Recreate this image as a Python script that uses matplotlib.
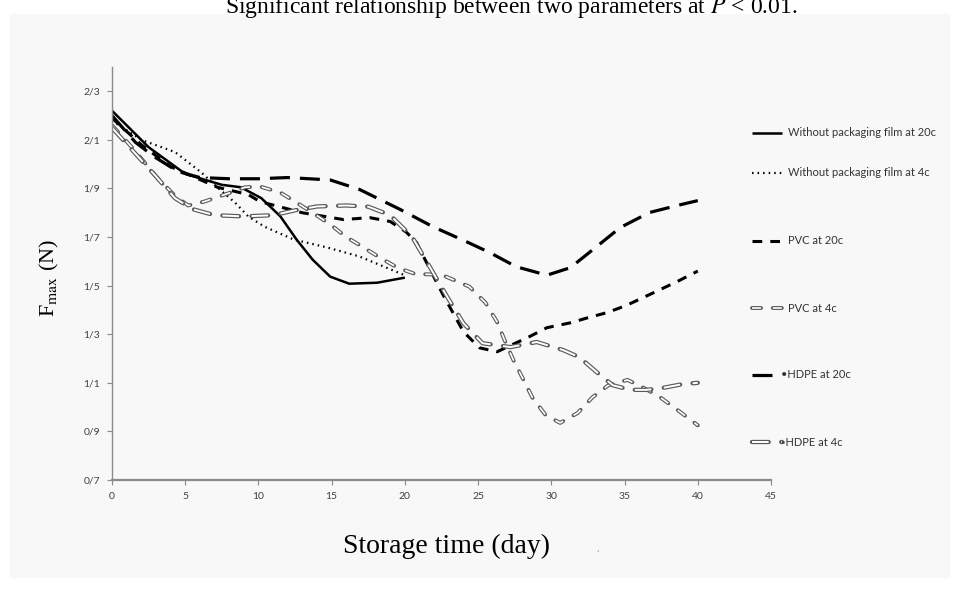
# -*- coding: utf-8 -*-
"""
Fmax of samples during storage, for six packaging / temperature treatments.
Recreation of an Excel-style smoothed line chart; saved as out.png.
"""

import matplotlib
matplotlib.use("Agg")
import matplotlib.pyplot as plt
from matplotlib.lines import Line2D
from matplotlib.patches import Rectangle

# Data (storage day, Fmax in N)
days_nf20 = [0, 2.5, 5, 7.5, 8.8, 10.2, 11.5, 12.6, 13.7, 14.9, 16.2, 18.1, 20]
fmax_nf20 = [2.22, 2.07, 1.96, 1.915, 1.905, 1.86, 1.785, 1.69, 1.607, 1.537, 1.508, 1.512, 1.533]

days_nf4 = [0, 2.0, 4.3, 6.1, 7.2, 8.4, 9.3, 10.4, 12.4, 14.7, 16.9, 19.9]
fmax_nf4 = [2.18, 2.10, 2.05, 1.966, 1.904, 1.842, 1.785, 1.743, 1.69, 1.657, 1.62, 1.545]

days_pvc20 = [0, 2, 4, 5.5, 7.2, 9.3, 10.1, 13, 15.8, 17.6, 19, 20.1, 20.8, 21.2, 22.6, 24,
              25.1, 26.3, 28.5, 29.7, 31.3, 32.5, 33.8, 35.1, 36.7, 38.6, 40]
fmax_pvc20 = [2.19, 2.08, 1.99, 1.95, 1.905, 1.875, 1.846, 1.80, 1.772, 1.78, 1.764, 1.72, 1.677,
              1.628, 1.463, 1.31, 1.244, 1.228, 1.29, 1.327, 1.347, 1.368, 1.389, 1.418, 1.463,
              1.517, 1.56]

days_pvc4 = [0, 1.5, 3, 4.3, 5.2, 6.3, 7.7, 9.1, 10.1, 11.5, 12.6, 13.7, 14.9, 16, 17.1, 18.3,
             19.5, 20.7, 22.5, 24.4, 25.5, 26.3, 26.8, 27.4, 28.1, 28.7, 29.6, 30.6, 31.8, 32.8,
             33.9, 35.2, 36.2, 37.4, 38.6, 40]
fmax_pvc4 = [2.16, 2.06, 1.95, 1.87, 1.83, 1.846, 1.875, 1.905, 1.908, 1.883, 1.842, 1.80, 1.752,
             1.70, 1.66, 1.615, 1.574, 1.548, 1.545, 1.496, 1.43, 1.35, 1.277, 1.195, 1.112, 1.04,
             0.968, 0.935, 0.976, 1.04, 1.09, 1.112, 1.083, 1.042, 0.989, 0.925]

days_hdpe20 = [0, 1.6, 2.9, 4.5, 6, 8, 10, 12, 14.9, 16.9, 19.7, 21.9, 24.2, 25.8, 27.6, 29.7,
               31.3, 33.1, 34.7, 36.7, 38.6, 40]
fmax_hdpe20 = [2.20, 2.09, 2.03, 1.97, 1.945, 1.94, 1.94, 1.945, 1.935, 1.896, 1.813, 1.743,
               1.681, 1.636, 1.578, 1.543, 1.574, 1.661, 1.739, 1.801, 1.83, 1.85]

days_hdpe4 = [0, 1.5, 3, 4.3, 5.5, 7, 9, 11, 12.5, 14, 16, 17.5, 19, 20.5, 21.7, 22.9, 24, 25.3,
              27.2, 29, 30.8, 31.9, 33.1, 34.2, 35.4, 36.5, 37.6, 39, 40]
fmax_hdpe4 = [2.15, 2.05, 1.95, 1.86, 1.815, 1.79, 1.785, 1.79, 1.81, 1.826, 1.83, 1.825, 1.79,
              1.70, 1.577, 1.453, 1.345, 1.263, 1.247, 1.268, 1.235, 1.206, 1.144, 1.09, 1.071,
              1.071, 1.079, 1.095, 1.10]

series_labels = ["Without packaging film at 20c", "Without packaging film at 4c",
                 "PVC at 20c", "PVC at 4c", "HDPE at 20c", "HDPE at 4c"]

x_ticks = [0, 5, 10, 15, 20, 25, 30, 35, 40, 45]
y_ticks = [0.7, 0.9, 1.1, 1.3, 1.5, 1.7, 1.9, 2.1, 2.3]
y_tick_labels = ["0/7", "0/9", "1/1", "1/3", "1/5", "1/7", "1/9", "2/1", "2/3"]

TITLE = "Significant relationship between two parameters at $P$ < 0.01."
X_LABEL = "Storage time (day)"
Y_LABEL = r"F$_{\mathrm{max}}$ (N)"
OUTPUT_FILENAME = "out.png"

W, H = 962, 590  # Bildgröße in Pixel
HOLLOW_EDGE = "#5a5a5a"

# Linienstile (Strichmuster in Punkt, da scale_dashes aus ist)
STYLES = [
    dict(color="black", lw=1.8, ls="-"),
    dict(color="black", lw=1.6, ls=(0, (1.1, 2.9))),
    dict(color="black", lw=2.2, ls=(0, (7.0, 5.8))),
    dict(hollow=True, lw=2.8, inner=1.2, ls=(0, (6.5, 8.5))),
    dict(color="black", lw=2.3, ls=(0, (14.4, 7.2))),
    dict(hollow=True, lw=3.1, inner=1.4, ls=(0, (12.0, 9.0))),
]

LEGEND_Y = [133, 173, 241, 308, 375, 442]
LEGEND_PREFIX = ["", "", "", "", "\u2022", "\u25e6"]

plt.rcParams["lines.scale_dashes"] = False
plt.rcParams["mathtext.fontset"] = "stix"


def fx(px):
    return px / W


def fy(py):
    return 1 - py / H


def make_lines(x, y, style, **kw):
    """Gibt die Line2D-Objekte für einen Stil zurück (hohle Striche = zwei Linien)."""
    if style.get("hollow"):
        return [
            Line2D(x, y, color=HOLLOW_EDGE, lw=style["lw"], ls=style["ls"],
                   dash_capstyle="round", **kw),
            Line2D(x, y, color="white", lw=style["inner"], ls=style["ls"],
                   dash_capstyle="butt", **kw),
        ]
    return [Line2D(x, y, color=style["color"], lw=style["lw"], ls=style["ls"],
                   dash_capstyle="butt", solid_capstyle="butt", **kw)]


def main():
    fig = plt.figure(figsize=(W / 100, H / 100), dpi=100, facecolor="white")
    # hellgrauer Kasten hinter dem Diagramm
    fig.patches.append(Rectangle((fx(10), fy(578)), (950 - 10) / W, (578 - 14) / H,
                                 transform=fig.transFigure, facecolor="#f8f8f8",
                                 edgecolor="none", zorder=-10))

    ax = fig.add_axes([fx(112), fy(480), (771 - 112) / W, (480 - 67) / H])
    ax.set_facecolor("none")

    data = [(days_nf20, fmax_nf20), (days_nf4, fmax_nf4), (days_pvc20, fmax_pvc20),
            (days_pvc4, fmax_pvc4), (days_hdpe20, fmax_hdpe20), (days_hdpe4, fmax_hdpe4)]
    for (d, f), st in zip(data, STYLES):
        for ln in make_lines(d, f, st):
            ax.add_line(ln)

    ax.set_xlim(0, 45)
    ax.set_ylim(0.7, 2.4)
    ax.set_xticks(x_ticks)
    ax.set_yticks(y_ticks)
    ax.set_yticklabels(y_tick_labels)
    for s in ["top", "right"]:
        ax.spines[s].set_visible(False)
    ax.spines["left"].set_color("#8a8a8a")
    ax.spines["left"].set_linewidth(1.0)
    ax.spines["bottom"].set_color("#8a8a8a")
    ax.spines["bottom"].set_linewidth(1.6)
    ax.tick_params(direction="out", length=3.5, width=0.8, color="#8a8a8a",
                   labelsize=7.5, labelcolor="#404040", pad=5)
    for lab in ax.get_xticklabels() + ax.get_yticklabels():
        lab.set_family("Lato")

    ax.set_xlabel(X_LABEL, fontsize=20, family="Liberation Serif")
    ax.xaxis.set_label_coords(0.507, -0.13)
    ax.set_ylabel(Y_LABEL, fontsize=16, family="Liberation Serif")
    ax.yaxis.set_label_coords(-0.078, 0.49)

    # Titel ist im Original oben abgeschnitten
    fig.text(fx(511), fy(13), TITLE, ha="center", va="baseline", fontsize=17,
             family="Liberation Serif")
    fig.text(fx(597), fy(549), "\u02cc", fontsize=6, color="#666666", ha="center", va="center")

    # Legende von Hand, wie im Original unregelmäßig verteilt
    for label, ly, st, pre in zip(series_labels, LEGEND_Y, STYLES, LEGEND_PREFIX):
        for ln in make_lines([fx(752), fx(782)], [fy(ly), fy(ly)], st,
                             transform=fig.transFigure):
            fig.add_artist(ln)
        tx = 781 if pre else 788
        fig.text(fx(tx), fy(ly), pre + label, va="center", ha="left", fontsize=8,
                 color="#333333", family=["Lato", "DejaVu Sans"])

    fig.savefig(OUTPUT_FILENAME, dpi=100, facecolor=fig.get_facecolor())


if __name__ == "__main__":
    main()
